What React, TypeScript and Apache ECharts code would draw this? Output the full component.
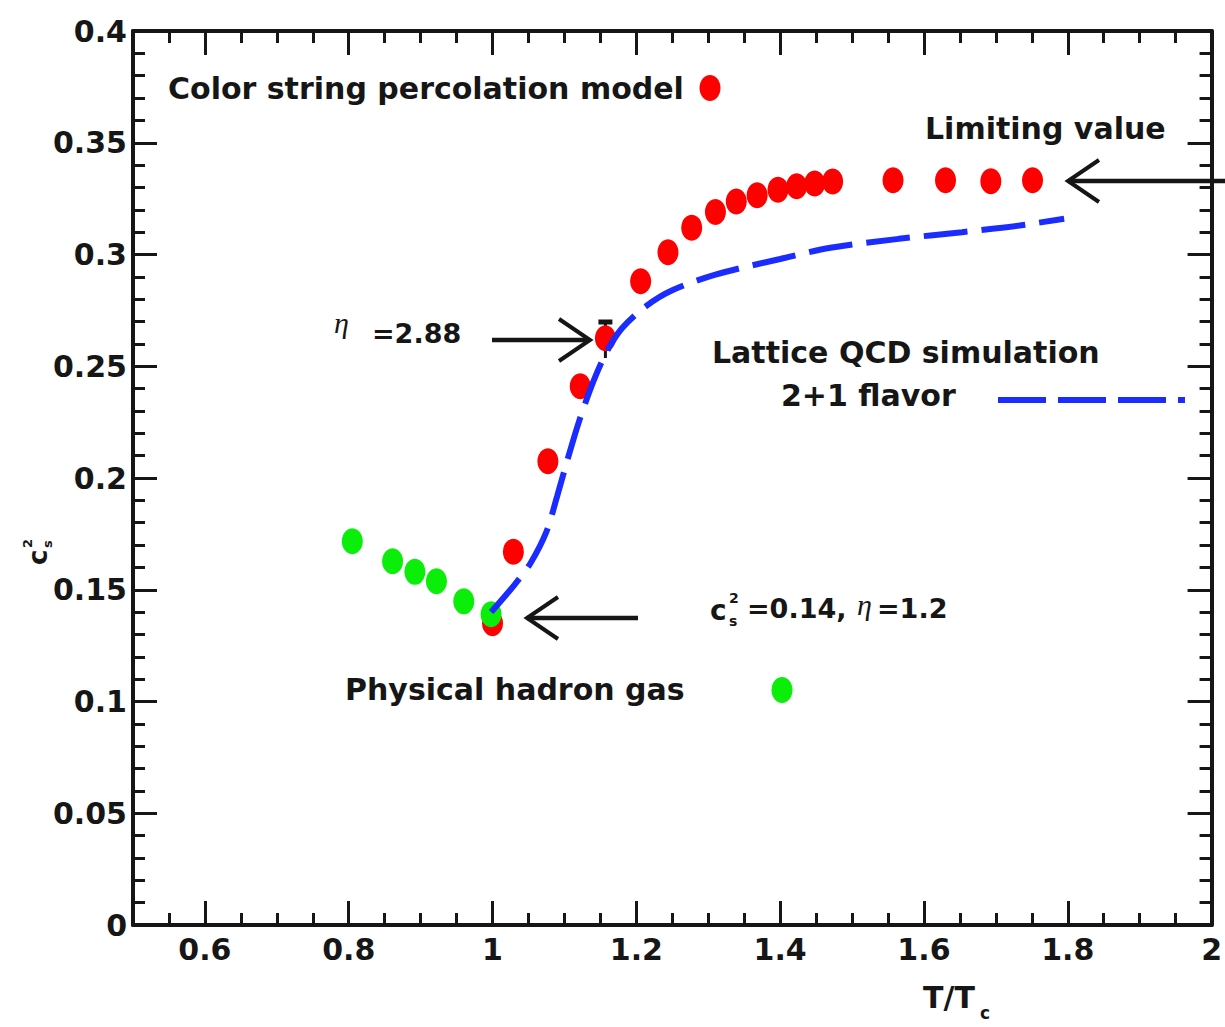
import React, { useEffect, useRef } from "react";
import * as echarts from "echarts";

// ---- data ----
const xMajorTicks = [0.6, 0.8, 1, 1.2, 1.4, 1.6, 1.8, 2];

const percolationX = [1.0, 1.029, 1.077, 1.122, 1.157, 1.206, 1.244, 1.277, 1.31, 1.339, 1.368, 1.397, 1.423, 1.448, 1.473, 1.557, 1.63, 1.693, 1.751];
const percolationY = [0.135, 0.167, 0.2075, 0.241, 0.2625, 0.288, 0.301, 0.312, 0.319, 0.3237, 0.3265, 0.329, 0.3305, 0.3318, 0.3327, 0.3332, 0.3332, 0.3328, 0.3332];

const hadronX = [0.805, 0.861, 0.892, 0.922, 0.96, 0.998];
const hadronY = [0.1717, 0.1628, 0.158, 0.1538, 0.1448, 0.139];

const latticeX = [0.998, 1.03, 1.053, 1.075, 1.09, 1.105, 1.121, 1.14, 1.158, 1.18, 1.214, 1.25, 1.31, 1.4, 1.47, 1.565, 1.653, 1.733, 1.795];
const latticeY = [0.140, 0.152, 0.162, 0.176, 0.192, 0.209, 0.226, 0.243, 0.256, 0.267, 0.277, 0.284, 0.291, 0.298, 0.303, 0.307, 0.310, 0.313, 0.316];

// error bar on the eta = 2.88 point: [x, low, high]
const errorBar = [[1.157, 0.2537, 0.2698]];

const RED = "#ff0000";
const GREEN = "#0aee0a";
const BLUE = "#1a2cff";
const INK = "#161616";
const BOLD = 'bold 30px "DejaVu Sans"';
const BOLD_NUM = 'bold 27px "DejaVu Sans"';
const FONT = "DejaVu Sans";

function txt(x: number, y: number, text: string, font = BOLD, extra: any = {}) {
  return {
    type: "text",
    x,
    y,
    style: {
      text,
      font,
      fill: INK,
      align: "left",
      verticalAlign: "middle",
      textAlign: "left",
      textVerticalAlign: "middle",
      ...extra,
    },
  };
}

function arrow(tipX: number, tipY: number, tailX: number, dir: number) {
  // dir = -1 pointing left, +1 pointing right
  const back = tipX - dir * 31;
  return [
    {
      type: "line",
      shape: { x1: tailX, y1: tipY, x2: tipX, y2: tipY },
      style: { stroke: INK, lineWidth: 4.5 },
    },
    {
      type: "polyline",
      shape: { points: [[back, tipY - 21], [tipX, tipY], [back, tipY + 21]] },
      style: { stroke: INK, lineWidth: 4, fill: null },
    },
  ];
}

export default function App() {
  const ref = useRef<HTMLDivElement>(null);

  useEffect(() => {
    if (!ref.current) return;
    const chart = echarts.init(ref.current, null, { renderer: "svg" });

    const tickStyle = { color: INK, width: 3 };
    const baseX = {
      type: "value",
      min: 0.5,
      max: 2,
      splitLine: { show: false },
    };

    const option: any = {
      animation: false,
      backgroundColor: "#ffffff",
      textStyle: { fontFamily: FONT },
      grid: { left: 133, right: 12, top: 31, bottom: 102, containLabel: false },
      xAxis: [
        {
          ...baseX,
          position: "bottom",
          axisLine: { show: true, onZero: false, lineStyle: { color: INK, width: 4 } },
          axisTick: { show: true, inside: true, length: 24, lineStyle: tickStyle, customValues: xMajorTicks },
          axisLabel: {
            show: true,
            customValues: xMajorTicks,
            formatter: (v: number) => String(parseFloat(Number(v).toFixed(2))),
            color: INK,
            fontFamily: FONT,
            fontWeight: "bold",
            fontSize: 30,
            margin: 9,
          },
        },
        {
          ...baseX,
          position: "bottom",
          interval: 0.05,
          axisLine: { show: false, onZero: false },
          axisTick: { show: true, inside: true, length: 12, lineStyle: tickStyle },
          axisLabel: { show: false },
        },
        {
          ...baseX,
          position: "top",
          axisLine: { show: true, onZero: false, lineStyle: { color: INK, width: 4 } },
          axisTick: { show: true, inside: true, length: 24, lineStyle: tickStyle, customValues: xMajorTicks },
          axisLabel: { show: false },
        },
        {
          ...baseX,
          position: "top",
          interval: 0.05,
          axisLine: { show: false, onZero: false },
          axisTick: { show: true, inside: true, length: 12, lineStyle: tickStyle },
          axisLabel: { show: false },
        },
      ],
      yAxis: [
        {
          type: "value",
          position: "left",
          min: 0,
          max: 0.4,
          interval: 0.05,
          splitLine: { show: false },
          axisLine: { show: true, onZero: false, lineStyle: { color: INK, width: 4 } },
          axisTick: { show: true, inside: true, length: 24, lineStyle: tickStyle },
          minorTick: { show: true, splitNumber: 5, length: 12, lineStyle: tickStyle },
          axisLabel: {
            formatter: (v: number) => String(parseFloat(Number(v).toFixed(2))),
            color: INK,
            fontFamily: FONT,
            fontWeight: "bold",
            fontSize: 30,
            margin: 6,
          },
        },
        {
          type: "value",
          position: "right",
          min: 0,
          max: 0.4,
          interval: 0.05,
          splitLine: { show: false },
          axisLine: { show: true, onZero: false, lineStyle: { color: INK, width: 4 } },
          axisTick: { show: true, inside: true, length: 24, lineStyle: tickStyle },
          minorTick: { show: true, splitNumber: 5, length: 12, lineStyle: tickStyle },
          axisLabel: { show: false },
        },
      ],
      series: [
        {
          type: "custom",
          name: "error",
          xAxisIndex: 0,
          yAxisIndex: 0,
          encode: { x: 0, y: [1, 2] },
          data: errorBar,
          renderItem: (_p: any, api: any) => {
            const x = api.value(0);
            const top = api.coord([x, api.value(2)]);
            const bot = api.coord([x, api.value(1)]);
            return {
              type: "group",
              children: [
                { type: "line", shape: { x1: top[0], y1: top[1], x2: bot[0], y2: bot[1] }, style: { stroke: INK, lineWidth: 3 } },
                { type: "line", shape: { x1: top[0] - 7, y1: top[1], x2: top[0] + 7, y2: top[1] }, style: { stroke: INK, lineWidth: 5 } },
              ],
            };
          },
        },
        {
          type: "scatter",
          name: "Color string percolation model",
          xAxisIndex: 0,
          yAxisIndex: 0,
          symbol: "circle",
          symbolSize: [21, 26],
          itemStyle: { color: RED, opacity: 1 },
          data: percolationX.map((x, i) => [x, percolationY[i]]),
        },
        {
          type: "scatter",
          name: "Physical hadron gas",
          xAxisIndex: 0,
          yAxisIndex: 0,
          symbol: "circle",
          symbolSize: [21, 26],
          itemStyle: { color: GREEN, opacity: 1 },
          data: hadronX.map((x, i) => [x, hadronY[i]]),
        },
        {
          type: "line",
          name: "Lattice QCD simulation 2+1 flavor",
          xAxisIndex: 0,
          yAxisIndex: 0,
          showSymbol: false,
          symbol: "none",
          smooth: 0.3,
          lineStyle: { color: BLUE, width: 6, type: [44, 14], cap: "butt" },
          data: latticeX.map((x, i) => [x, latticeY[i]]),
        },
      ],
      graphic: [
        // legend-like labels
        txt(168, 88, "Color string percolation model"),
        { type: "ellipse", shape: { cx: 710, cy: 88, rx: 10.5, ry: 13 }, style: { fill: RED } },
        txt(925, 128, "Limiting value"),
        ...arrow(1068, 181, 1225, -1),

        txt(334, 322, "η", 'italic 30px "Liberation Serif"'),
        txt(372, 333, "=2.88", BOLD_NUM),
        ...arrow(590, 340, 492, 1),

        txt(712, 352, "Lattice QCD simulation"),
        txt(781, 395, "2+1 flavor"),
        {
          type: "line",
          shape: { x1: 998, y1: 400, x2: 1185, y2: 400 },
          style: { stroke: BLUE, lineWidth: 6, lineDash: [48, 12] },
        },

        ...arrow(527, 618, 638, -1),
        txt(710, 610, "c", 'bold 28px "DejaVu Sans"'),
        txt(729, 598, "2", 'bold 14px "DejaVu Sans"'),
        txt(729, 621, "s", 'bold 14px "DejaVu Sans"'),
        txt(747, 608, "=0.14,", BOLD_NUM),
        txt(857, 604, "η", 'italic 30px "Liberation Serif"'),
        txt(877, 608, "=1.2", BOLD_NUM),

        txt(345, 689, "Physical hadron gas"),
        { type: "ellipse", shape: { cx: 782, cy: 690, rx: 10.5, ry: 13 }, style: { fill: GREEN } },

        // axis titles
        txt(923, 997, "T/T"),
        txt(980, 1013, "c", 'bold 17px "DejaVu Sans"'),
        {
          type: "group",
          x: 38,
          y: 556,
          rotation: Math.PI / 2,
          children: [
            txt(-9, 0, "c", 'bold 26px "DejaVu Sans"'),
            txt(8, -11, "2", 'bold 13px "DejaVu Sans"'),
            txt(8, 9, "s", 'bold 13px "DejaVu Sans"'),
          ],
        },
      ],
    };

    chart.setOption(option);
    return () => chart.dispose();
  }, []);

  return (
    <div
      ref={ref}
      style={{ position: "fixed", left: 0, top: 0, width: 1225, height: 1027, background: "#fff" }}
    />
  );
}
